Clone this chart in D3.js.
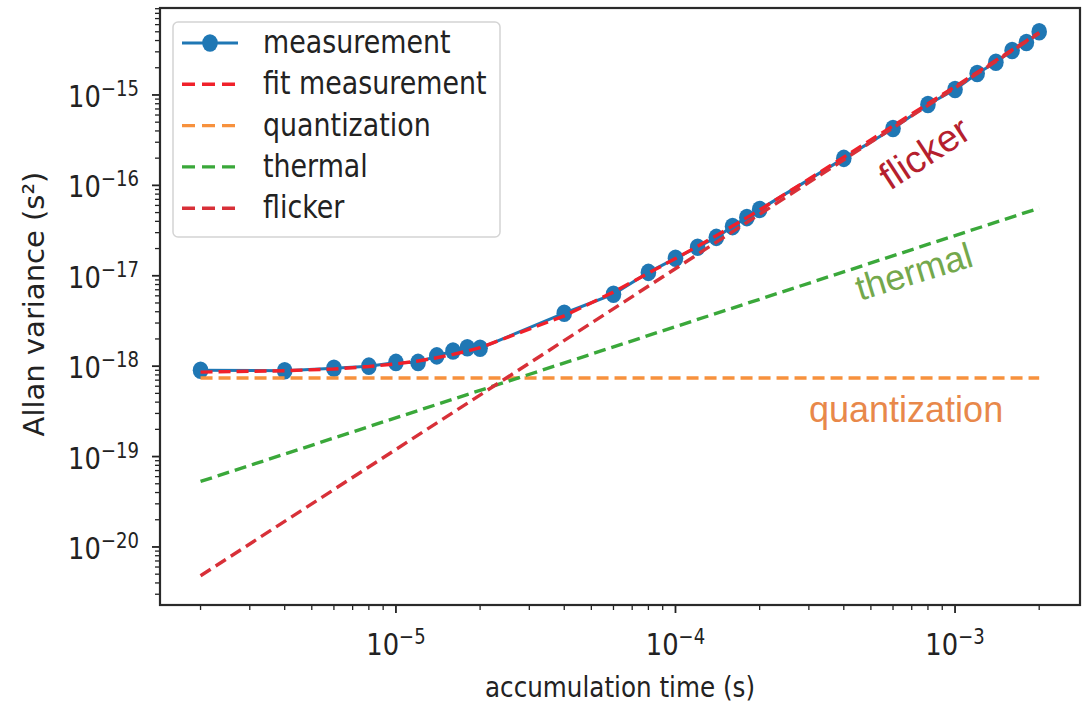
<!DOCTYPE html>
<html>
<head>
<meta charset="utf-8">
<script src="https://cdn.jsdelivr.net/npm/d3@7"></script>
<style>
    body { margin: 0; background: #fff; }
    svg { display: block; }
</style>
</head>
<body>
<svg id="chart" width="1091" height="704"></svg>
<script>
// accumulation time (s) of the measured points
var tau = [2e-6, 4e-6, 6e-6, 8e-6, 1e-5, 1.2e-5, 1.4e-5, 1.6e-5, 1.8e-5, 2e-5,
    4e-5, 6e-5, 8e-5, 1e-4, 1.2e-4, 1.4e-4, 1.6e-4, 1.8e-4, 2e-4,
    4e-4, 6e-4, 8e-4, 1e-3, 1.2e-3, 1.4e-3, 1.6e-3, 1.8e-3, 2e-3];

// Allan variance (s^2)
var measurement = [9.0e-19, 8.9e-19, 9.5e-19, 1.0e-18, 1.1e-18, 1.1e-18, 1.3e-18, 1.47e-18, 1.6e-18, 1.58e-18,
    3.85e-18, 6.25e-18, 1.09e-17, 1.56e-17, 2.07e-17, 2.66e-17, 3.5e-17, 4.4e-17, 5.4e-17,
    1.99e-16, 4.26e-16, 7.85e-16, 1.15e-15, 1.73e-15, 2.3e-15, 3.1e-15, 3.8e-15, 5.0e-15];

var fitMeasurement = [8.6e-19, 8.9e-19, 9.3e-19, 9.9e-19, 1.06e-18, 1.14e-18, 1.24e-18, 1.35e-18, 1.47e-18, 1.6e-18,
    3.6e-18, 6.6e-18, 1.07e-17, 1.55e-17, 2.12e-17, 2.78e-17, 3.55e-17, 4.4e-17, 5.35e-17,
    2.05e-16, 4.55e-16, 8.0e-16, 1.24e-15, 1.78e-15, 2.41e-15, 3.14e-15, 3.97e-15, 4.9e-15];

// noise components are straight lines on log-log axes, given at both ends
var lineTau = [2e-6, 2e-3];
var quantization = [7.4e-19, 7.4e-19];
var thermal = [5.3e-20, 5.6e-17];
var flicker = [4.8e-21, 4.8e-15];

var xTickExp = [-5, -4, -3];
var yTickExp = [-20, -19, -18, -17, -16, -15];

var legendLabels = ["measurement", "fit measurement", "quantization", "thermal", "flicker"];
var legendColors = ["#1f77b4", "#f0202a", "#f7913d", "#3aa83a", "#d83038"];

var blue = "#1f77b4", fitRed = "#f0202a", orange = "#f7913d", green = "#3aa83a", red = "#d83038";

// window.top is read-only, so keep the plot box in its own names
var plotL = 160, plotR = 1080, plotT = 8, plotB = 605;

var x = d3.scaleLog()
    .domain([Math.pow(10, -5.844), Math.pow(10, -2.553)])
    .range([plotL, plotR]);

var y = d3.scaleLog()
    .domain([Math.pow(10, -20.642), Math.pow(10, -14.038)])
    .range([plotB, plotT]);

var svg = d3.select("#chart");

svg.append("rect")
    .attr("width", 1091)
    .attr("height", 704)
    .style("fill", "#fff");

var mplFont = "'DejaVu Sans', sans-serif";

function isMajor(t) {
    var l = Math.log10(t);
    return Math.abs(l - Math.round(l)) < 1e-6;
}

// ticks
var gTicks = svg.append("g").style("stroke", "#222");

x.ticks().forEach(function (t) {
    var len = isMajor(t) ? 8 : 5;
    gTicks.append("line")
        .attr("x1", x(t)).attr("x2", x(t))
        .attr("y1", plotB).attr("y2", plotB + len)
        .style("stroke-width", isMajor(t) ? 1.8 : 1.3);
});

y.ticks().forEach(function (t) {
    var len = isMajor(t) ? 8 : 5;
    gTicks.append("line")
        .attr("x1", plotL - len).attr("x2", plotL)
        .attr("y1", y(t)).attr("y2", y(t))
        .style("stroke-width", isMajor(t) ? 1.8 : 1.3);
});

// tick labels : 10 with superscript exponent
function powerLabel(g, e, anchor) {
    var t = g.append("text")
        .attr("text-anchor", anchor)
        .style("font-family", mplFont)
        .style("font-size", "30px")
        .style("fill", "#222");
    t.append("tspan").text("10");
    t.append("tspan")
        .attr("dy", -11)
        .style("font-size", "21px")
        .text("\u2212" + Math.abs(e));
}

yTickExp.forEach(function (e) {
    var g = svg.append("g")
        .attr("transform", "translate(139," + (y(Math.pow(10, e)) + 12) + ") scale(0.86,1)");
    powerLabel(g, e, "end");
});

xTickExp.forEach(function (e) {
    var g = svg.append("g")
        .attr("transform", "translate(" + x(Math.pow(10, e)) + ",655) scale(0.86,1)");
    powerLabel(g, e, "middle");
});

// axis labels
svg.append("g")
    .attr("transform", "translate(620,697) scale(0.85,1)")
    .append("text")
    .attr("text-anchor", "middle")
    .style("font-family", mplFont)
    .style("font-size", "29px")
    .style("fill", "#222")
    .text("accumulation time (s)");

svg.append("text")
    .attr("transform", "translate(44,304) rotate(-90)")
    .attr("text-anchor", "middle")
    .style("font-family", mplFont)
    .style("font-size", "29px")
    .style("fill", "#222")
    .text("Allan variance (s\u00b2)");

// series
var line = d3.line()
    .x(function (d) { return x(d[0]); })
    .y(function (d) { return y(d[1]); });

var dash = "12,6";

svg.append("path")
    .datum(d3.zip(tau, measurement))
    .attr("d", line)
    .style("fill", "none")
    .style("stroke", blue)
    .style("stroke-width", 3);

svg.append("g").selectAll("ellipse")
    .data(d3.zip(tau, measurement))
    .enter().append("ellipse")
    .attr("cx", function (d) { return x(d[0]); })
    .attr("cy", function (d) { return y(d[1]); })
    .attr("rx", 7.8)
    .attr("ry", 8.8)
    .style("fill", blue);

svg.append("path")
    .datum(d3.zip(tau, fitMeasurement))
    .attr("d", line)
    .style("fill", "none")
    .style("stroke", fitRed)
    .style("stroke-width", 3.4)
    .style("stroke-dasharray", dash);

[[quantization, orange], [thermal, green], [flicker, red]].forEach(function (s) {
    svg.append("path")
        .datum(d3.zip(lineTau, s[0]))
        .attr("d", line)
        .style("fill", "none")
        .style("stroke", s[1])
        .style("stroke-width", 3.4)
        .style("stroke-dasharray", dash);
});

// frame
svg.append("rect")
    .attr("x", plotL)
    .attr("y", plotT)
    .attr("width", plotR - plotL)
    .attr("height", plotB - plotT)
    .style("fill", "none")
    .style("stroke", "#2a2a2a")
    .style("stroke-width", 2.2);

// legend
var legend = svg.append("g").attr("class", "legend");

legend.append("rect")
    .attr("x", 173)
    .attr("y", 22)
    .attr("width", 327)
    .attr("height", 215)
    .attr("rx", 5)
    .style("fill", "#fff")
    .style("fill-opacity", 0.85)
    .style("stroke", "#d4d4d4")
    .style("stroke-width", 1.5);

legendLabels.forEach(function (label, i) {
    var cy = 43 + i * 41.3;
    var h = legend.append("line")
        .attr("x1", 182).attr("x2", 238)
        .attr("y1", cy).attr("y2", cy)
        .style("stroke", legendColors[i])
        .style("stroke-width", 3.4);
    if (i == 0) {
        h.style("stroke-width", 3);
        legend.append("ellipse")
            .attr("cx", 210).attr("cy", cy)
            .attr("rx", 7.8).attr("ry", 8.8)
            .style("fill", blue);
    } else {
        h.style("stroke-dasharray", "13,7");
    }
    legend.append("g")
        .attr("transform", "translate(263," + (cy + 10) + ") scale(0.84,1)")
        .append("text")
        .style("font-family", mplFont)
        .style("font-size", "32px")
        .style("fill", "#222")
        .text(label);
});

// annotations
var annFont = "'Liberation Sans', Arial, sans-serif";

svg.append("text")
    .attr("transform", "translate(890,191) rotate(-33)")
    .style("font-family", annFont)
    .style("font-size", "38px")
    .style("fill", "#b51f2e")
    .text("flicker");

svg.append("text")
    .attr("transform", "translate(860,301) rotate(-17)")
    .style("font-family", annFont)
    .style("font-size", "36px")
    .style("fill", "#74a84c")
    .text("thermal");

svg.append("text")
    .attr("x", 809)
    .attr("y", 422)
    .style("font-family", annFont)
    .style("font-size", "36px")
    .style("fill", "#e8884a")
    .text("quantization");
</script>
</body>
</html>
